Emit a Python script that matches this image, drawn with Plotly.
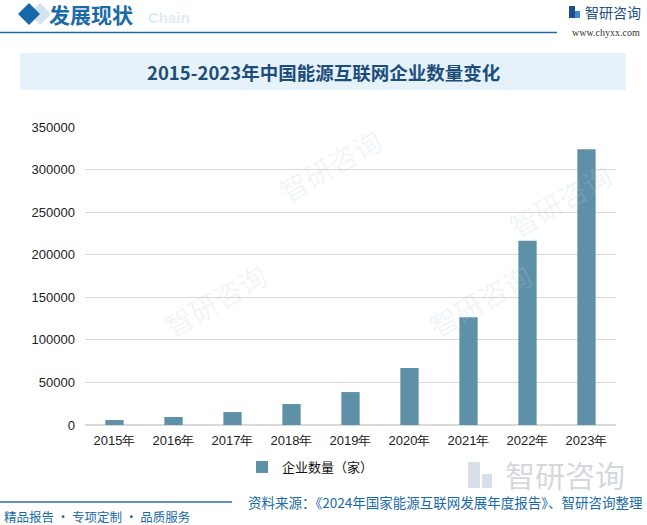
import plotly.graph_objects as go

years = ["2015年", "2016年", "2017年", "2018年", "2019年", "2020年", "2021年", "2022年", "2023年"]
counts = [5800, 9400, 15200, 24600, 38700, 66800, 126500, 216300, 324000]
series_name = "企业数量（家）"
title_text = "2015-2023年中国能源互联网企业数量变化"
y_ticks = [0, 50000, 100000, 150000, 200000, 250000, 300000, 350000]

W, H = 647, 525
L, R, T, B = 85, 616, 127, 425

def px(x):
    return (x - L) / (R - L)

def py(y):
    return (B - y) / (B - T)

fig = go.Figure()
fig.add_trace(go.Bar(
    x=years, y=counts, name=series_name,
    marker=dict(color="#5E90A8", line=dict(width=0)),
    width=0.31,
))

shapes = []
annotations = []

def ann(x, y, text, size, color, family="Noto Sans CJK SC", xanchor="center", angle=0):
    annotations.append(dict(x=px(x), y=py(y), xref="paper", yref="paper", xanchor=xanchor, yanchor="middle",
                            text=text, showarrow=False, textangle=angle,
                            font=dict(size=size, color=color, family=family)))

# faint watermarks
for (wx, wy) in [(330, 165), (215, 300), (480, 300), (560, 200)]:
    ann(wx, wy, "智研咨询", 28, "rgba(190,205,220,0.20)", angle=-30)

# header
shapes.append(dict(type="path", xref="paper", yref="paper",
                   path=f"M {px(40)} {py(3)} L {px(51)} {py(14)} L {px(40)} {py(25)} L {px(29)} {py(14)} Z",
                   fillcolor="#D3E3EF", line=dict(width=0), layer="below"))
shapes.append(dict(type="path", xref="paper", yref="paper",
                   path=f"M {px(29)} {py(3)} L {px(40)} {py(14)} L {px(29)} {py(25)} L {px(18)} {py(14)} Z",
                   fillcolor="#1768A8", line=dict(width=0)))
shapes.append(dict(type="line", xref="paper", yref="paper", x0=px(0), x1=px(557), y0=py(32.5), y1=py(32.5),
                   line=dict(color="#1A6AA8", width=1.5)))
ann(146, 17, "<b>Chain</b>", 15, "#E0ECF5", family="Liberation Sans", xanchor="left")
ann(47, 14, "<b>发展现状</b>", 21, "#1A6AA8", xanchor="left")
# right logo
shapes.append(dict(type="rect", xref="paper", yref="paper", x0=px(569), x1=px(575), y0=py(18), y1=py(6),
                   fillcolor="#1E4C8C", line=dict(width=0)))
shapes.append(dict(type="rect", xref="paper", yref="paper", x0=px(575), x1=px(580), y0=py(18), y1=py(11),
                   fillcolor="#3C8AD0", line=dict(width=0)))
ann(583, 12, "智研咨询", 14, "#1E4F86", xanchor="left")
ann(606, 32, "www.chyxx.com", 10, "#333333", family="Liberation Serif")

# title box
shapes.append(dict(type="rect", xref="paper", yref="paper", x0=px(20), x1=px(626), y0=py(90), y1=py(53),
                   fillcolor="#E6F2FA", line=dict(width=0), layer="below"))
ann(323, 72, "<b>" + title_text + "</b>", 18.5, "#1D4E7A")

# footer
shapes.append(dict(type="line", xref="paper", yref="paper", x0=px(0), x1=px(232), y0=py(502), y1=py(502),
                   line=dict(color="#2F6FA8", width=1.5)))
# bottom-right logo watermark
shapes.append(dict(type="rect", xref="paper", yref="paper", x0=px(468), x1=px(480), y0=py(488), y1=py(462),
                   fillcolor="rgba(170,185,205,0.45)", line=dict(width=0)))
shapes.append(dict(type="rect", xref="paper", yref="paper", x0=px(482), x1=px(492), y0=py(488), y1=py(474),
                   fillcolor="rgba(170,185,205,0.45)", line=dict(width=0)))
ann(565, 474, "智研咨询", 30, "rgba(175,182,190,0.55)")
ann(645, 502, "资料来源：《2024年国家能源互联网发展年度报告》、智研咨询整理", 13.5, "#1A6AA8", xanchor="right")
ann(2, 516, "精品报告 · 专项定制 · 品质服务", 12.5, "#1A6AA8", xanchor="left")

fig.update_layout(
    width=W, height=H,
    margin=dict(l=L, r=W - R, t=T, b=H - B, autoexpand=False),
    paper_bgcolor="white", plot_bgcolor="white",
    font=dict(family="Noto Sans CJK SC", size=12, color="#222"),
    shapes=shapes, annotations=annotations,
    showlegend=True,
    legend=dict(orientation="h", x=px(242), xanchor="left", y=py(467), yanchor="middle",
                font=dict(size=13, color="#111"), itemwidth=30, bgcolor="rgba(0,0,0,0)"),
    xaxis=dict(showgrid=False, ticks="", showline=False, tickfont=dict(size=13, family="Liberation Sans", color="#222"),
               ticklabelstandoff=6),
    yaxis=dict(range=[0, 350000], tickvals=y_ticks, ticktext=[str(v) for v in y_ticks],
               showgrid=True, gridcolor="#D9D9D9", gridwidth=1, zeroline=True, zerolinecolor="#D9D9D9",
               showline=False, ticks="", tickfont=dict(size=13, family="Liberation Sans", color="#222"),
               ticklabelstandoff=9),
)

fig.write_html("out.html", config={"displayModeBar": False},
               post_script="document.body.style.margin='0px';")
